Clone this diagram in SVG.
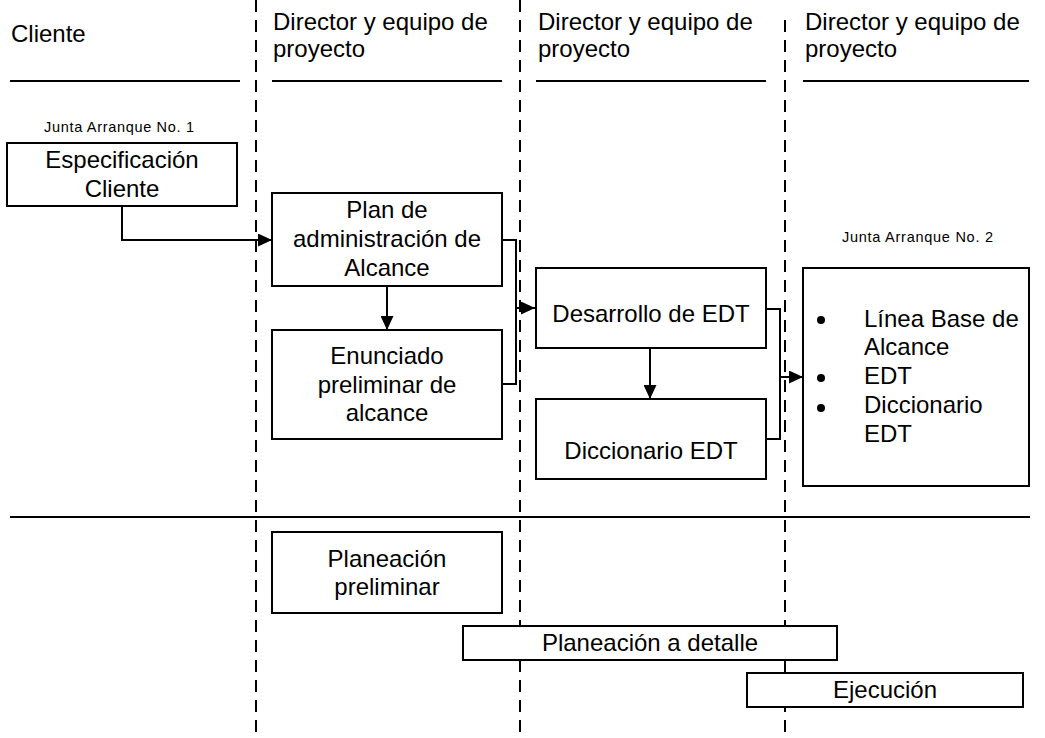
<svg xmlns="http://www.w3.org/2000/svg" width="1045" height="738" viewBox="0 0 1045 738">
<style>
.t{font-family:"Liberation Sans",Arial,sans-serif;font-size:24px;fill:#000}
.s{font-family:"Liberation Sans",Arial,sans-serif;font-size:14.5px;fill:#000}
.c{text-anchor:middle}
.box{fill:#fff;stroke:#000;stroke-width:2}
.dash{stroke:#000;stroke-width:2;stroke-dasharray:12 8;fill:none}
.rule{stroke:#000;stroke-width:2;fill:none}
.conn{stroke:#000;stroke-width:2;fill:none}
</style>
<defs>
<marker id="ah" markerUnits="userSpaceOnUse" markerWidth="14" markerHeight="13" refX="14" refY="6.5" orient="auto">
<path d="M0,0 L14,6.5 L0,13 z" fill="#000"/>
</marker>
</defs>
<rect width="1045" height="738" fill="#fff"/>
<g id="lanes">
<line class="dash" x1="256" y1="0" x2="256" y2="738"/>
<line class="dash" x1="520" y1="0" x2="520" y2="738"/>
<line class="dash" x1="785" y1="20" x2="785" y2="738"/>
<line class="rule" x1="10" y1="81" x2="240" y2="81"/>
<line class="rule" x1="272" y1="81" x2="502" y2="81"/>
<line class="rule" x1="536" y1="81" x2="766" y2="81"/>
<line class="rule" x1="803" y1="81" x2="1029" y2="81"/>
<line class="rule" x1="10" y1="517" x2="1030" y2="517"/>
<text class="t" x="11" y="42">Cliente</text>
<text class="t" x="273" y="30">Director y equipo de</text>
<text class="t" x="273" y="57">proyecto</text>
<text class="t" x="538" y="30">Director y equipo de</text>
<text class="t" x="538" y="57">proyecto</text>
<text class="t" x="805" y="30">Director y equipo de</text>
<text class="t" x="805" y="57">proyecto</text>
<text class="s" x="44" y="132" textLength="150" lengthAdjust="spacing">Junta Arranque No. 1</text>
<text class="s" x="842" y="242" textLength="151" lengthAdjust="spacing">Junta Arranque No. 2</text>
</g>
<g id="connectors">
<path class="conn" d="M122,206 V240 H272" marker-end="url(#ah)"/>
<path class="conn" d="M387,286 V330" marker-end="url(#ah)"/>
<path class="conn" d="M502,240 H516 V384 H502"/>
<path class="conn" d="M516,308 H535" marker-end="url(#ah)"/>
<path class="conn" d="M650,348 V399" marker-end="url(#ah)"/>
<path class="conn" d="M766,309 H780 V439 H766"/>
<path class="conn" d="M780,377 H803" marker-end="url(#ah)"/>
</g>
<g id="especificacion">
<rect class="box" x="7" y="143" width="230" height="63"/>
<text class="t c" x="122" y="168">Especificación</text>
<text class="t c" x="122" y="197">Cliente</text>
</g>
<g id="plan">
<rect class="box" x="272" y="193" width="230" height="93"/>
<text class="t c" x="387" y="218">Plan de</text>
<text class="t c" x="387" y="247">administración de</text>
<text class="t c" x="387" y="276">Alcance</text>
</g>
<g id="enunciado">
<rect class="box" x="272" y="330" width="230" height="109"/>
<text class="t c" x="387" y="364">Enunciado</text>
<text class="t c" x="387" y="393">preliminar de</text>
<text class="t c" x="387" y="421">alcance</text>
</g>
<g id="desarrollo">
<rect class="box" x="536" y="268" width="230" height="80"/>
<text class="t c" x="651" y="322">Desarrollo de EDT</text>
</g>
<g id="diccionario">
<rect class="box" x="536" y="399" width="230" height="80"/>
<text class="t c" x="651" y="459">Diccionario EDT</text>
</g>
<g id="linea-base">
<rect class="box" x="803" y="268" width="226" height="218"/>
<circle cx="821" cy="320" r="4" fill="#000"/>
<circle cx="821" cy="378" r="4" fill="#000"/>
<circle cx="821" cy="408" r="4" fill="#000"/>
<text class="t" x="864" y="327">Línea Base de</text>
<text class="t" x="864" y="355">Alcance</text>
<text class="t" x="864" y="384">EDT</text>
<text class="t" x="864" y="413">Diccionario</text>
<text class="t" x="864" y="442">EDT</text>
</g>
<g id="planeacion-preliminar">
<rect class="box" x="272" y="532" width="230" height="81"/>
<text class="t c" x="387" y="567">Planeación</text>
<text class="t c" x="387" y="595">preliminar</text>
</g>
<g id="planeacion-detalle">
<rect class="box" x="463" y="626" width="374" height="34"/>
<text class="t c" x="650" y="651">Planeación a detalle</text>
</g>
<g id="ejecucion">
<rect class="box" x="747" y="673" width="276" height="34"/>
<text class="t c" x="885" y="698">Ejecución</text>
</g>
</svg>
